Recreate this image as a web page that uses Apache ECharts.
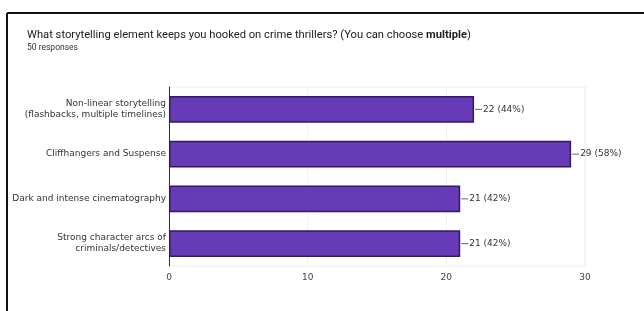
<!DOCTYPE html>
<html>
<head>
<meta charset="utf-8">
<script src="https://cdn.jsdelivr.net/npm/echarts@6/dist/echarts.min.js"></script>
<style>
  html, body { margin: 0; padding: 0; background: #fff; }
  #chart { width: 644px; height: 311px; }
</style>
</head>
<body>
<div id="chart"></div>
<script>
// survey answers, top to bottom as shown
var categories = [
  'Non-linear storytelling\n(flashbacks, multiple timelines)',
  'Cliffhangers and Suspense',
  'Dark and intense cinematography',
  'Strong character arcs of\ncriminals/detectives'
];
var counts = [22, 29, 21, 21];
var totalResponses = 50;
var xTicks = [0, 10, 20, 30];

var wideFont = '"DejaVu Sans", Verdana, sans-serif';

var chart = echarts.init(document.getElementById('chart'), null, { renderer: 'canvas' });

var option = {
  animation: false,
  backgroundColor: '#fff',
  textStyle: { fontFamily: 'Roboto, Arial, sans-serif' },
  title: {
    text: 'What storytelling element keeps you hooked on crime thrillers? (You can choose {b|multiple})',
    subtext: totalResponses + ' responses',
    left: 22,
    top: 25,
    itemGap: 2,
    textStyle: {
      fontSize: 11.2,
      fontWeight: 'normal',
      color: '#202124',
      rich: { b: { fontSize: 11.2, fontWeight: 'bold', color: '#202124' } }
    },
    subtextStyle: { fontSize: 8.5, color: '#333' }
  },
  graphic: [
    // the black frame round the screenshot (top and left edges only)
    { type: 'line', shape: { x1: 7, y1: 13, x2: 644, y2: 13 }, style: { stroke: '#111', lineWidth: 2 } },
    { type: 'line', shape: { x1: 7, y1: 13, x2: 7, y2: 311 }, style: { stroke: '#111', lineWidth: 2 } }
  ],
  grid: {
    left: 169,
    right: 59,
    top: 87,
    bottom: 45,
    show: true,
    borderColor: '#eeeeee',
    borderWidth: 1
  },
  xAxis: {
    type: 'value',
    min: 0,
    max: 30,
    interval: 10,
    axisLine: { show: false },
    axisTick: { show: false },
    splitLine: { show: true, lineStyle: { color: '#f0f0f0' } },
    axisLabel: {
      fontFamily: wideFont,
      fontSize: 9,
      color: '#444',
      margin: 7,
      formatter: function (v) { return xTicks.indexOf(v) >= 0 ? String(v) : ''; }
    }
  },
  yAxis: {
    type: 'category',
    data: categories,
    inverse: true,
    axisLine: { show: true, lineStyle: { color: '#333', width: 1 } },
    axisTick: { show: false },
    axisLabel: { fontFamily: wideFont, fontSize: 9, color: '#333', margin: 3, lineHeight: 11, align: 'right' }
  },
  series: [{
    type: 'bar',
    data: counts,
    barWidth: '60%',
    itemStyle: {
      color: '#673ab7',
      borderColor: '#2f1b63',
      borderWidth: 1.5
    },
    label: {
      show: true,
      position: 'right',
      distance: 1,
      formatter: function (p) {
        var pct = Math.round(p.value / totalResponses * 100);
        return '{l|}{t|' + p.value + ' (' + pct + '%)}';
      },
      rich: {
        l: { width: 7, height: 1, backgroundColor: '#666' },
        t: { fontFamily: wideFont, fontSize: 9, color: '#333', padding: [0, 0, 0, 1] }
      }
    }
  }]
};

chart.setOption(option);
</script>
</body>
</html>
